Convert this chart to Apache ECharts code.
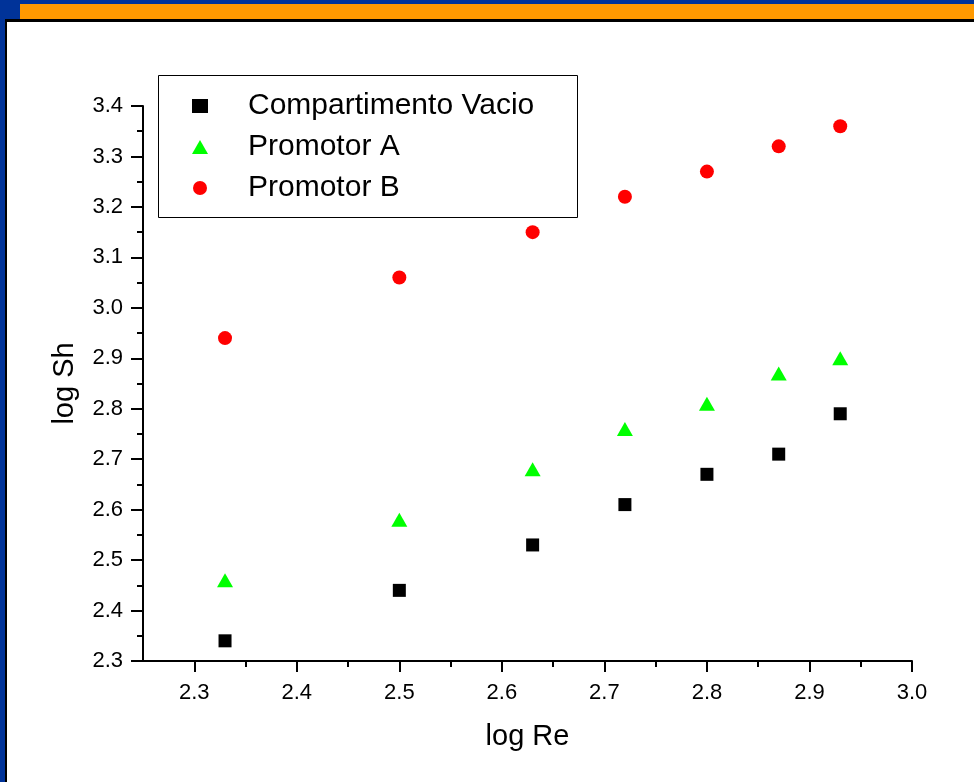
<!DOCTYPE html>
<html>
<head>
<meta charset="utf-8">
<title>log Sh vs log Re</title>
<script src="https://cdn.jsdelivr.net/npm/echarts@6/dist/echarts.min.js"></script>
<style>
  html, body { margin: 0; padding: 0; background: #ffffff; }
  #chart { width: 974px; height: 782px; }
</style>
</head>
<body>
<div id="chart"></div>
<script>
// Measured data: log Re on x, log Sh on y
const logRe = [2.33, 2.50, 2.63, 2.72, 2.80, 2.87, 2.93];
const vacio = [2.34, 2.44, 2.53, 2.61, 2.67, 2.71, 2.79];
const promotorA = [2.46, 2.58, 2.68, 2.76, 2.81, 2.87, 2.90];
const promotorB = [2.94, 3.06, 3.15, 3.22, 3.27, 3.32, 3.36];

const seriesNames = ['Compartimento Vacio', 'Promotor A', 'Promotor B'];

// X axis ticks: labelled majors every 0.1 and short minors halfway between
const xMajorTicks = [2.3, 2.4, 2.5, 2.6, 2.7, 2.8, 2.9, 3.0];
const xMinorTicks = [2.35, 2.45, 2.55, 2.65, 2.75, 2.85, 2.95];

const FONT = '"Liberation Sans", Arial, Helvetica, sans-serif';

function pairs(xs, ys) {
  return xs.map((x, i) => [x, ys[i]]);
}

const chart = echarts.init(document.getElementById('chart'), null, { renderer: 'canvas' });

chart.setOption({
  backgroundColor: '#ffffff',
  animation: false,
  textStyle: { fontFamily: FONT },
  graphic: [
    // frame: blue edges, orange header bar, thin black rule
    { type: 'rect', silent: true, z: -10, shape: { x: 0, y: 0, width: 974, height: 4 }, style: { fill: '#003399' } },
    { type: 'rect', silent: true, z: -10, shape: { x: 0, y: 0, width: 20, height: 20 }, style: { fill: '#003399' } },
    { type: 'rect', silent: true, z: -10, shape: { x: 0, y: 0, width: 5, height: 782 }, style: { fill: '#003399' } },
    { type: 'rect', silent: true, z: -10, shape: { x: 20, y: 4, width: 954, height: 15 }, style: { fill: '#ff9900' } },
    { type: 'rect', silent: true, z: -10, shape: { x: 5, y: 19, width: 969, height: 3 }, style: { fill: '#000000' } },
    { type: 'rect', silent: true, z: -10, shape: { x: 5, y: 19, width: 2, height: 763 }, style: { fill: '#000000' } },
    // legend box
    { type: 'rect', silent: true, z: 5, shape: { x: 158.5, y: 75.5, width: 419, height: 142 },
      style: { fill: '#ffffff', stroke: '#000000', lineWidth: 1 } }
  ],
  legend: {
    orient: 'vertical',
    left: 192,
    top: 91,
    z: 10,
    itemWidth: 16,
    itemHeight: 14,
    itemGap: 11,
    padding: 0,
    data: seriesNames,
    textStyle: { fontFamily: FONT, fontSize: 30, color: '#000000', padding: [0, 0, 0, 35] }
  },
  grid: { left: 143, top: 106, right: 62, bottom: 121, containLabel: false },
  xAxis: [
    {
      type: 'value',
      min: 2.25,
      max: 3.0,
      name: 'log Re',
      nameLocation: 'middle',
      nameGap: 61,
      nameTextStyle: { fontFamily: FONT, fontSize: 29, color: '#000000' },
      axisLine: { show: true, onZero: false, lineStyle: { color: '#000000', width: 2 } },
      axisTick: { show: true, customValues: xMajorTicks, length: 11, lineStyle: { color: '#000000', width: 2 } },
      axisLabel: {
        customValues: xMajorTicks, margin: 21,
        fontFamily: FONT, fontSize: 22, color: '#000000',
        formatter: v => v.toFixed(1)
      },
      splitLine: { show: false }
    },
    {
      // overlay carrying the short halfway ticks
      type: 'value',
      min: 2.25,
      max: 3.0,
      position: 'bottom',
      axisLine: { show: false, onZero: false },
      axisTick: { show: true, customValues: xMinorTicks, length: 6, lineStyle: { color: '#000000', width: 2 } },
      axisLabel: { show: false },
      splitLine: { show: false }
    }
  ],
  yAxis: {
    type: 'value',
    min: 2.3,
    max: 3.4,
    interval: 0.1,
    name: 'log Sh',
    nameLocation: 'middle',
    nameGap: 64,
    nameTextStyle: { fontFamily: FONT, fontSize: 29, color: '#000000' },
    axisLine: { show: true, onZero: false, lineStyle: { color: '#000000', width: 2 } },
    axisTick: { show: true, length: 12, lineStyle: { color: '#000000', width: 2 } },
    minorTick: { show: true, splitNumber: 2, length: 6, lineStyle: { color: '#000000', width: 2 } },
    axisLabel: {
      margin: 20,
      fontFamily: FONT, fontSize: 22, color: '#000000',
      formatter: v => v.toFixed(1)
    },
    splitLine: { show: false },
    minorSplitLine: { show: false }
  },
  series: [
    {
      name: seriesNames[0],
      type: 'scatter',
      symbol: 'rect',
      symbolSize: 13,
      itemStyle: { color: '#000000', opacity: 1 },
      data: pairs(logRe, vacio)
    },
    {
      name: seriesNames[1],
      type: 'scatter',
      symbol: 'triangle',
      symbolSize: [16, 14],
      itemStyle: { color: '#00ff00', opacity: 1 },
      data: pairs(logRe, promotorA)
    },
    {
      name: seriesNames[2],
      type: 'scatter',
      symbol: 'circle',
      symbolSize: 14,
      itemStyle: { color: '#ff0000', opacity: 1 },
      data: pairs(logRe, promotorB)
    }
  ]
});
</script>
</body>
</html>
